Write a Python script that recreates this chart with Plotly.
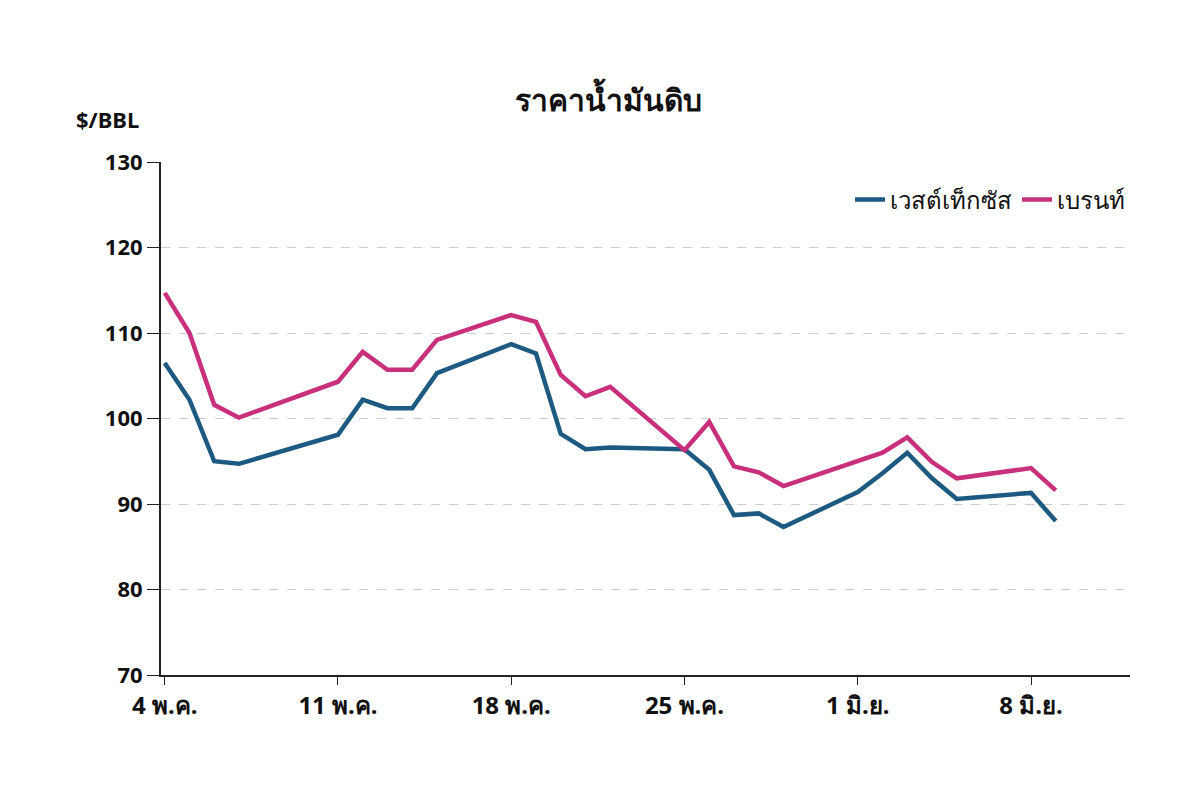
import plotly.graph_objects as go

# days counted from 4 May
days = [0, 1, 2, 3, 7, 8, 9, 10, 11, 14, 15, 16, 17, 18, 21, 22, 23, 24, 25, 28, 29, 30, 31, 32, 35, 36]
wti = [106.5, 102.2, 95.0, 94.7, 98.1, 102.2, 101.2, 101.2, 105.3, 108.7, 107.6, 98.2, 96.4, 96.6,
       96.4, 94.0, 88.7, 88.9, 87.3, 91.4, 93.6, 96.0, 93.0, 90.6, 91.3, 88.0]
brent = [114.7, 110.0, 101.6, 100.1, 104.3, 107.8, 105.7, 105.7, 109.2, 112.1, 111.3, 105.1, 102.6, 103.7,
         96.3, 99.6, 94.4, 93.7, 92.1, 95.0, 96.0, 97.8, 94.9, 93.0, 94.2, 91.6]
tick_days = [0, 7, 14, 21, 28, 35]
tick_labels = ["<b>4 พ.ค.</b>", "<b>11 พ.ค.</b>", "<b>18 พ.ค.</b>", "<b>25 พ.ค.</b>",
               "<b>1 มิ.ย.</b>", "<b>8 มิ.ย.</b>"]

font = "Noto Sans, DejaVu Sans, sans-serif"

fig = go.Figure()
fig.add_trace(go.Scatter(x=days, y=wti, mode="lines", name="เวสต์เท็กซัส",
                         line=dict(color="#1d5a82", width=4.5)))
fig.add_trace(go.Scatter(x=days, y=brent, mode="lines", name="เบรนท์",
                         line=dict(color="#c8307c", width=4.5)))

fig.update_layout(
    width=1200, height=808,
    paper_bgcolor="white", plot_bgcolor="white",
    margin=dict(l=153, r=78, t=154, b=141),
    font=dict(family=font, size=22, color="#111"),
    title=dict(text="<b>ราคาน้ำมันดิบ</b>", x=0.5, xanchor="center", y=0.885, yanchor="middle",
               font=dict(size=30, color="#111")),
    legend=dict(orientation="h", x=1.0, xanchor="right", y=0.97, yanchor="top",
                font=dict(size=24), bgcolor="rgba(0,0,0,0)"),
    showlegend=True,
)
fig.update_xaxes(range=[-0.15, 39], tickvals=tick_days, ticktext=tick_labels,
                 showline=True, linecolor="#222", linewidth=2, ticks="outside",
                 ticklen=8, tickcolor="#222", showgrid=False, zeroline=False,
                 tickfont=dict(size=24, family=font))
fig.update_yaxes(range=[70, 130], dtick=10, showline=True, linecolor="#222", linewidth=2,
                 ticks="outside", ticklen=12, tickcolor="#222",
                 showgrid=True, gridcolor="#cccccc", griddash="dash", gridwidth=1, zeroline=False,
                 tickprefix="<b>", ticksuffix="</b>",
                 tickfont=dict(size=22, family=font))
fig.add_annotation(text="<b>$/BBL</b>", xref="paper", yref="paper", x=-0.09, y=1.05,
                   xanchor="left", yanchor="bottom", showarrow=False, font=dict(size=22))

fig.write_html("out.html")
